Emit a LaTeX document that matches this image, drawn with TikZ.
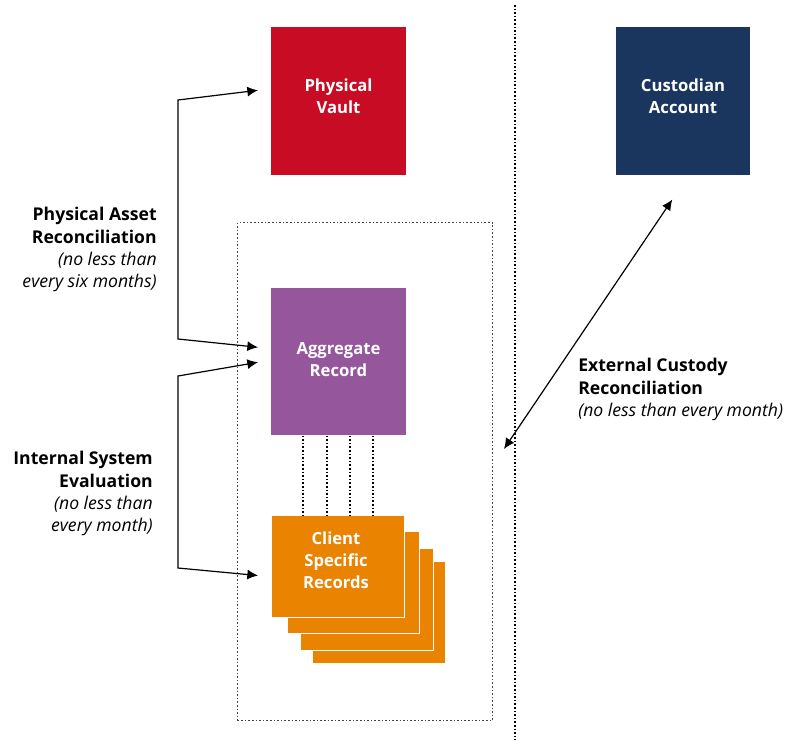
\documentclass[tikz,border=0pt]{standalone}
\usepackage{fontspec}
\setmainfont{Open Sans}
\usetikzlibrary{arrows.meta}
\definecolor{vaultred}{HTML}{C80C24}
\definecolor{custblue}{HTML}{1A365F}
\definecolor{aggpurple}{HTML}{95569B}
\definecolor{clientorange}{HTML}{E98300}
\definecolor{txtgray}{HTML}{444444}
\tikzset{
  box/.style={draw=none, inner sep=0pt, anchor=north west},
  stackbox/.style={draw=white, line width=0.8pt, fill=clientorange, inner sep=0pt, anchor=north west},
  boxtext/.style={text=white, font=\fontsize{12.5}{16.5}\selectfont\bfseries, align=center, inner sep=0pt},
  lbltext/.style={font=\fontsize{13.2}{16.8}\selectfont, inner sep=0pt},
  arr/.style={line width=0.9pt, -{Latex[length=8pt,width=7.5pt]}},
  darr/.style={line width=0.9pt, {Latex[length=8pt,width=7.5pt]}-{Latex[length=8pt,width=7.5pt]}},
  dots/.style={line width=0.8pt, dash pattern=on 1.2pt off 1.5pt},
}
\begin{document}
\begin{tikzpicture}[x=0.75pt,y=-0.75pt]
\useasboundingbox (0,0) rectangle (795,740);

% separator and frame
\coordinate (septop) at (515,5);
\coordinate (sepbot) at (515,740);
\draw[dots] (septop) -- (sepbot);
\node[box, draw=txtgray, dots, minimum width=191.25pt, minimum height=373.5pt] (frame) at (237,222) {};

% boxes
\node[box, fill=vaultred, minimum width=101.25pt, minimum height=111pt] (vault) at (271,27) {};
\node[boxtext] (vaultlbl) at (338.5,96) {Physical\\Vault};
\node[box, fill=custblue, minimum width=100.5pt, minimum height=111pt] (cust) at (616,27) {};
\node[boxtext] (custlbl) at (683,96) {Custodian\\Account};
\node[box, fill=aggpurple, minimum width=101.25pt, minimum height=110.25pt] (agg) at (271,288) {};
\node[boxtext] (agglbl) at (338.5,360) {Aggregate\\Record};

% client stack (back to front)
\node[stackbox, minimum width=99.75pt, minimum height=76.5pt] (c4) at (312,561) {};
\node[stackbox, minimum width=99.75pt, minimum height=76.5pt] (c3) at (300,548) {};
\node[stackbox, minimum width=99pt, minimum height=76.5pt] (c2) at (287,531) {};
\node[stackbox, minimum width=99.75pt, minimum height=76.5pt] (c1) at (271,515) {};
\node[boxtext] (clientlbl) at (336,560) {Client\\Specific\\Records};

% dotted links aggregate -> client
\foreach \xx in {32,56,79,102} {
  \draw[dots] ([xshift=\xx*0.75pt]agg.south west) -- ([xshift=\xx*0.75pt]c1.north west);
}

% left brackets
\coordinate (b1a) at (178,100);
\coordinate (b1b) at (178,339);
\draw[darr] ([shift={(-13,-11)}]vault.west) -- (b1a) -- (b1b) -- ([shift={(-13,-14.5)}]agg.west);
\coordinate (b2a) at (178,376);
\coordinate (b2b) at (178,568);
\draw[darr] ([shift={(-13,0.5)}]agg.west) -- (b2a) -- (b2b) -- ([shift={(-13,9)}]c1.west);

% external arrow
\coordinate (extend) at (504,449);
\draw[darr] ([shift={(-11,24)}]cust.south) -- (extend);

% labels
\node[lbltext, anchor=north east, align=right] (pal) at (157,207) {\bfseries Physical Asset\\\bfseries Reconciliation\\\itshape (no less than\\\itshape every six months)};
\node[lbltext, anchor=north east, align=right] (isl) at (153,451) {\bfseries Internal System\\\bfseries Evaluation\\\itshape (no less than\\\itshape every month)};
\node[lbltext, anchor=north west, align=left] (ecl) at (578,358) {\bfseries External Custody\\\bfseries Reconciliation\\\itshape (no less than every month)};
\end{tikzpicture}
\end{document}
